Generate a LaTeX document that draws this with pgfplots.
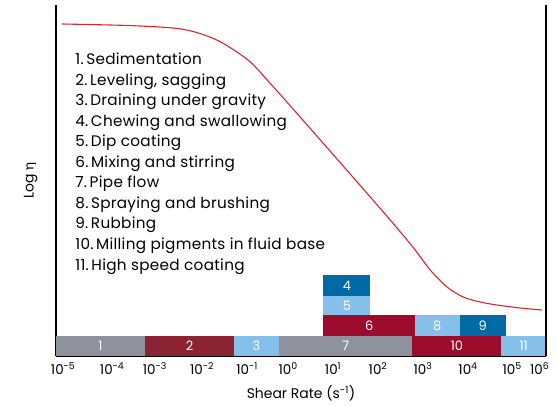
\documentclass[border=0pt]{standalone}
\usepackage{fontspec}
\setmainfont{Poppins}
\newfontfamily\listfont[LetterSpace=2]{Poppins}
\newfontfamily\grk{Lato}
\usepackage{pgfplots}
\pgfplotsset{compat=1.18}
\definecolor{barGray}{HTML}{8E929E}
\definecolor{barDarkRed}{HTML}{8B2332}
\definecolor{barRed}{HTML}{9C0A2C}
\definecolor{barLight}{HTML}{85C0EA}
\definecolor{barBlue}{HTML}{006AA6}
\definecolor{curveRed}{HTML}{D7262E}

% one bar: xmin, xmax, ymin, ymax, colour
\newcommand{\rangebar}[5]{%
  \addplot[fill=#5, draw=none] coordinates {(#1,#3) (#2,#3) (#2,#4) (#1,#4)} -- cycle;}

\begin{document}
\begin{tikzpicture}
\begin{axis}[
    scale only axis,
    width=490bp, height=351bp,
    xmin=-5, xmax=6, ymin=0, ymax=351,
    axis x line=bottom, axis y line=left,
    axis line style={-, line width=1.3pt},
    xtick={-4.84,-3.74,-2.78,-1.72,-0.71,0.21,1.22,2.23,3.24,4.25,5.24,5.86},
    xticklabels={10\textsuperscript{-5},10\textsuperscript{-4},10\textsuperscript{-3},10\textsuperscript{-2},10\textsuperscript{-1},10\textsuperscript{0},10\textsuperscript{1},10\textsuperscript{2},10\textsuperscript{3},10\textsuperscript{4},10\textsuperscript{5},10\textsuperscript{6}},
    ytick=\empty,
    major tick length=0pt,
    tick label style={font=\fontsize{13.5}{15}\selectfont},
    xticklabel style={yshift=-3bp},
    /pgf/number format/assume math mode=true,
    xlabel={Shear Rate (s\textsuperscript{-1})},
    ylabel={Log {\grk η}},
    label style={font=\fontsize{14}{16}\selectfont},
    xlabel style={yshift=-4bp},
    ylabel style={yshift=15bp},
    clip=false,
]
% bottom row
\rangebar{-5}{-3}{0}{20}{barGray}
\rangebar{-3}{-1}{0}{20}{barDarkRed}
\rangebar{-1}{0}{0}{20}{barLight}
\rangebar{0}{3}{0}{20}{barGray}
\rangebar{3}{5}{0}{20}{barRed}
\rangebar{5}{6}{0}{20}{barLight}
% second row
\rangebar{1}{3.05}{20}{41}{barRed}
\rangebar{3.05}{4.07}{20}{41}{barLight}
\rangebar{4.07}{5.1}{20}{41}{barBlue}
% stack above 6
\rangebar{1}{2.06}{41}{60}{barLight}
\rangebar{1}{2.06}{60}{81}{barBlue}

\addplot[curveRed, line width=1.1pt, smooth, tension=0.5] coordinates {
  (-4.87,332) (-3.27,330.3) (-2.15,326.7) (-1.39,316) (-0.69,296)
  (-0.26,276) (0.48,239) (2.27,148) (3.01,109) (3.40,86) (3.78,69)
  (4.14,59) (4.52,54) (4.90,51) (5.42,48) (5.91,46)};

\begin{scope}[every node/.style={text=white, font=\fontsize{13}{15}\selectfont}]
\node at (axis cs:-4,10) {1};
\node at (axis cs:-2,10) {2};
\node at (axis cs:-0.5,10) {3};
\node at (axis cs:1.5,10) {7};
\node at (axis cs:4,10) {10};
\node at (axis cs:5.5,10) {11};
\node at (axis cs:2.03,30.5) {6};
\node at (axis cs:3.56,30.5) {8};
\node at (axis cs:4.58,30.5) {9};
\node at (axis cs:1.53,50.5) {5};
\node at (axis cs:1.53,70.5) {4};
\end{scope}

\node[anchor=north west, align=left, inner sep=0pt,
      font=\listfont\fontsize{15.3}{20.6}\selectfont] at (axis cs:-4.57,303) {%
1.\,Sedimentation\\
2.\,Leveling, sagging\\
3.\,Draining under gravity\\
4.\,Chewing and swallowing\\
5.\,Dip coating\\
6.\,Mixing and stirring\\
7.\,Pipe flow\\
8.\,Spraying and brushing\\
9.\,Rubbing\\
10.\,Milling pigments in fluid base\\
11.\,High speed coating};

\draw[line width=1.3pt] (rel axis cs:1,0) -- (rel axis cs:1,1);
\end{axis}
\path (current axis.south west) ++(-56bp,-50bp) rectangle ++(558bp,406bp);
\end{tikzpicture}
\end{document}
